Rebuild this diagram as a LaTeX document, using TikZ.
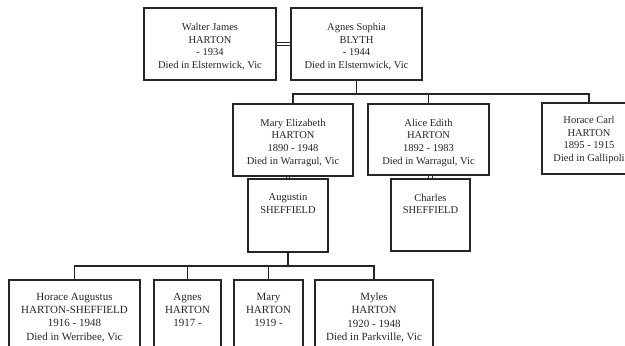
\documentclass[tikz,border=0pt]{standalone}
\usepackage{fontspec}
\setmainfont{Liberation Serif}
\begin{document}
\begin{tikzpicture}[x=1pt,y=-1pt,
  box/.style={draw=black!85, line width=1.4pt, rectangle, inner sep=0pt},
  conn/.style={draw=black!85, line width=1.2pt},
  marr/.style={draw=black!85, line width=1pt, double=white, double distance=2.4pt},
  txt/.style={align=center, inner sep=0pt, text=black!85, font=\fontsize{10.5}{12.6}\selectfont},
  txtb/.style={align=center, inner sep=0pt, text=black!85, font=\fontsize{11}{13.3}\selectfont}]
\useasboundingbox (0,0) rectangle (625,346);
\clip (0,0) rectangle (625,346);
\fill[white] (0,0) rectangle (625,346);
% boxes
\node[box, minimum width=132pt, minimum height=72pt] (w) at (210,44) {};
\node[box, minimum width=131pt, minimum height=72pt] (a) at (356.5,44) {};
\node[box, minimum width=120pt, minimum height=72pt] (m) at (293,140) {};
\node[box, minimum width=121pt, minimum height=71pt] (al) at (428.5,139.5) {};
\node[box, minimum width=94pt, minimum height=71pt] (hc) at (589,138.5) {};
\node[box, minimum width=80pt, minimum height=73pt] (aug) at (288,215.5) {};
\node[box, minimum width=79pt, minimum height=72pt] (ch) at (430.5,215) {};
\node[box, minimum width=131pt, minimum height=90pt] (c1) at (74.5,325) {};
\node[box, minimum width=67pt, minimum height=90pt] (c2) at (187.5,325) {};
\node[box, minimum width=69pt, minimum height=90pt] (c3) at (268.5,325) {};
\node[box, minimum width=118pt, minimum height=90pt] (c4) at (374,325) {};
% texts
\node[txt, anchor=north] (wt) at ([yshift=-16pt]w.north) {Walter James\\HARTON\\- 1934\\Died in Elsternwick, Vic};
\node[txt, anchor=north] (at) at ([yshift=-16pt]a.north) {Agnes Sophia\\BLYTH\\- 1944\\Died in Elsternwick, Vic};
\node[txt, anchor=north] (mt) at ([yshift=-15.5pt]m.north) {Mary Elizabeth\\HARTON\\1890 - 1948\\Died in Warragul, Vic};
\node[txt, anchor=north] (alt) at ([yshift=-15.5pt]al.north) {Alice Edith\\HARTON\\1892 - 1983\\Died in Warragul, Vic};
\node[txt, anchor=north] (hct) at ([yshift=-14pt]hc.north) {Horace Carl\\HARTON\\1895 - 1915\\Died in Gallipoli};
\node[txt, anchor=north] (augt) at ([yshift=-15.5pt]aug.north) {Augustin\\SHEFFIELD};
\node[txt, anchor=north] (cht) at ([yshift=-15.5pt]ch.north) {Charles\\SHEFFIELD};
\node[txtb, anchor=north] (c1t) at ([yshift=-13.5pt]c1.north) {Horace Augustus\\HARTON-SHEFFIELD\\1916 - 1948\\Died in Werribee, Vic};
\node[txtb, anchor=north] (c2t) at ([yshift=-13.5pt]c2.north) {Agnes\\HARTON\\1917 -};
\node[txtb, anchor=north] (c3t) at ([yshift=-13.5pt]c3.north) {Mary\\HARTON\\1919 -};
\node[txtb, anchor=north] (c4t) at ([yshift=-13.5pt]c4.north) {Myles\\HARTON\\1920 - 1948\\Died in Parkville, Vic};
% connectors
\coordinate (bar1) at (356.5,94);
\coordinate (bar2) at (288,266);
\draw[marr] (w.east) -- (a.west);
\draw[conn] (a.south) -- (bar1);
\draw[conn] (m.north) |- (bar1) -| (hc.north);
\draw[conn] (al.north) -- (al.north |- bar1);
\draw[marr] (aug.north |- m.south) -- (aug.north);
\draw[marr] (ch.north |- al.south) -- (ch.north);
\draw[conn] (aug.south) -- (bar2);
\draw[conn] (c1.north) |- (bar2) -| (c4.north);
\draw[conn] (c2.north) -- (c2.north |- bar2);
\draw[conn] (c3.north) -- (c3.north |- bar2);
\end{tikzpicture}
\end{document}
